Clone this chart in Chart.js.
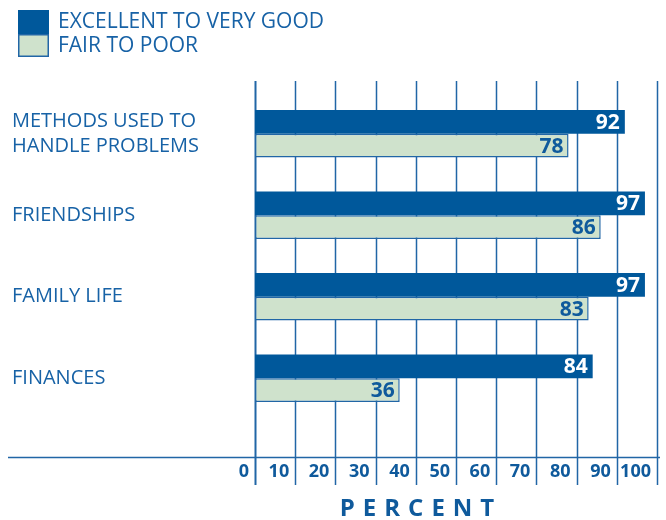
<!DOCTYPE html>
<html>
<head>
<meta charset="utf-8">
<script src="https://cdn.jsdelivr.net/npm/chart.js@4"></script>
<style>
html,body{margin:0;padding:0;background:#fff;}
#wrap{width:666px;height:520px;position:relative;}
</style>
</head>
<body>
<div id="wrap"><canvas id="c" width="666" height="520"></canvas></div>
<script>
const categories = [["METHODS USED TO","HANDLE PROBLEMS"], "FRIENDSHIPS", "FAMILY LIFE", "FINANCES"];
const seriesNames = ["EXCELLENT TO VERY GOOD", "FAIR TO POOR"];
const excellentValues = [92, 97, 97, 84];
const fairValues = [78, 86, 83, 36];
const xTicks = [0, 10, 20, 30, 40, 50, 60, 70, 80, 90, 100];
const axisTitle = "PERCENT";

const DARK = '#00589b';
const LIGHT = '#cfe2cc';
const LINE = '#2166a6';
const TEXT = '#1762a6';
const FONT = "'Open Sans', sans-serif";

const decor = {
  id: 'decor',
  beforeDatasetsDraw(chart) {
    const ctx = chart.ctx, xs = chart.scales.x;
    ctx.save();
    ctx.strokeStyle = LINE;
    xs.ticks.forEach((t, i) => {
      const x = Math.round(xs.getPixelForValue(t.value)) + 0.5;
      ctx.lineWidth = i === 0 ? 2 : 1.5;
      ctx.beginPath();
      ctx.moveTo(x, 81);
      ctx.lineTo(x, 485);
      ctx.stroke();
    });
    // baseline
    ctx.lineWidth = 1.5;
    ctx.beginPath();
    ctx.moveTo(8, 457.5);
    ctx.lineTo(xs.right + 3, 457.5);
    ctx.stroke();
    ctx.restore();
  },
  afterDatasetsDraw(chart) {
    const ctx = chart.ctx;
    ctx.save();
    ctx.font = "bold 21px " + FONT;
    ctx.textAlign = 'right';
    ctx.textBaseline = 'middle';
    chart.data.datasets.forEach((ds, di) => {
      const meta = chart.getDatasetMeta(di);
      meta.data.forEach((bar, i) => {
        ctx.fillStyle = di === 0 ? '#ffffff' : '#0f5a9c';
        ctx.fillText(String(ds.data[i]), bar.x - 5, bar.y + 1);
      });
    });
    ctx.restore();
  },
  afterDraw(chart) {
    const ctx = chart.ctx;
    ctx.save();
    // legend
    const ds = chart.data.datasets;
    ctx.fillStyle = ds[1].backgroundColor;
    ctx.fillRect(18, 34, 31, 23);
    ctx.strokeStyle = ds[1].borderColor;
    ctx.lineWidth = 1.5;
    ctx.strokeRect(18.75, 34.75, 29.5, 21.5);
    ctx.fillStyle = ds[0].backgroundColor;
    ctx.fillRect(18, 10, 31, 24);
    ctx.font = "21px " + FONT;
    ctx.fillStyle = TEXT;
    ctx.textAlign = 'left';
    ctx.textBaseline = 'middle';
    ctx.fillText(ds[0].label, 58, 22);
    ctx.fillText(ds[1].label, 58, 46);
    // axis title
    ctx.font = "bold 24px " + FONT;
    ctx.fillStyle = '#0f5a9c';
    ctx.textAlign = 'center';
    ctx.letterSpacing = '8px';
    ctx.fillText(axisTitle, 421, 509);
    ctx.restore();
  }
};

new Chart(document.getElementById('c'), {
  type: 'bar',
  data: {
    labels: categories,
    datasets: [
      { label: seriesNames[0], data: excellentValues, backgroundColor: DARK, borderColor: DARK, borderWidth: 0 },
      { label: seriesNames[1], data: fairValues, backgroundColor: LIGHT, borderColor: LINE, borderWidth: 1.5, borderSkipped: false }
    ]
  },
  options: {
    indexAxis: 'y',
    responsive: false,
    animation: false,
    devicePixelRatio: 1,
    categoryPercentage: 0.58,
    barPercentage: 1.0,
    layout: { padding: { top: 93, left: 12, right: 9, bottom: 0 } },
    plugins: { legend: { display: false }, tooltip: { enabled: false } },
    scales: {
      x: {
        type: 'linear', min: 0, max: 100,
        afterBuildTicks(scale) { scale.ticks = xTicks.map(v => ({ value: v })); },
        afterFit(scale) { scale.height = 101; scale.paddingLeft = 0; scale.paddingRight = 0; },
        grid: { display: false },
        border: { display: false },
        ticks: {
          align: 'end', labelOffset: -6, padding: 34, autoSkip: false, maxRotation: 0,
          color: '#0f5a9c', font: { family: FONT, size: 18, weight: 'bold' }
        }
      },
      y: {
        afterFit(scale) { scale.width = 243; },
        grid: { display: false },
        border: { display: false },
        ticks: {
          crossAlign: 'far', color: TEXT, autoSkip: false,
          font: { family: FONT, size: 20, lineHeight: 1.25 }
        }
      }
    }
  },
  plugins: [decor]
});
</script>
</body>
</html>
